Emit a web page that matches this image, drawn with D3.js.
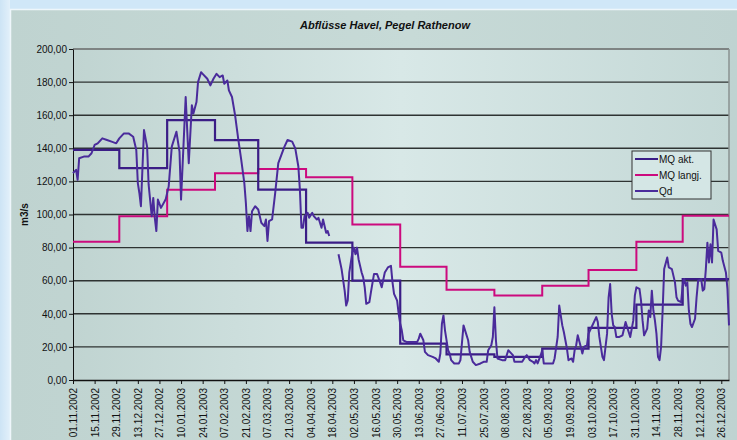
<!DOCTYPE html>
<html>
<head>
<meta charset="utf-8">
<script src="https://cdnjs.cloudflare.com/ajax/libs/d3/7.8.5/d3.min.js"></script>
<style>
  body { margin: 0; background: #d0e7f8; }
  svg { display: block; font-family: "Liberation Sans", Arial, sans-serif; }
</style>
</head>
<body>
<div id="zone_graphique"></div>
<script>
var largeur = 737;
var hauteur = 440;

// Daten
var titel = "Abflüsse Havel, Pegel Rathenow";
var yTicks = [0, 20, 40, 60, 80, 100, 120, 140, 160, 180, 200];
var xTicks = ["01.11.2002", "15.11.2002", "29.11.2002", "13.12.2002", "27.12.2002", "10.01.2003",
  "24.01.2003", "07.02.2003", "21.02.2003", "07.03.2003", "21.03.2003", "04.04.2003", "18.04.2003",
  "02.05.2003", "16.05.2003", "30.05.2003", "13.06.2003", "27.06.2003", "11.07.2003", "25.07.2003",
  "08.08.2003", "22.08.2003", "05.09.2003", "19.09.2003", "03.10.2003", "17.10.2003", "31.10.2003",
  "14.11.2003", "28.11.2003", "12.12.2003", "26.12.2003"];

// Monatsmittel (Monatsanfang)
var monate = ["01.11.2002", "01.12.2002", "01.01.2003", "01.02.2003", "01.03.2003", "01.04.2003",
  "01.05.2003", "01.06.2003", "01.07.2003", "01.08.2003", "01.09.2003", "01.10.2003",
  "01.11.2003", "01.12.2003", "31.12.2003"];
var mqAkt =   [139, 128, 157, 145, 115, 83, 60, 22, 15.5, 14, 19, 31.5, 45.5, 61, 61];
var mqLangj = [83.5, 99, 115, 125, 127.5, 122.5, 94, 68.5, 54.5, 51, 57, 66.5, 83.5, 99.3, 99.3];

// Tageswerte Qd (Tag ab 01.11.2002)
var qdTage = [0, 2, 3, 4, 7, 10, 12, 14, 16, 19, 22, 25, 28, 30, 33, 36, 39, 41, 42, 43, 44, 46, 48, 49,
  51, 52, 53, 54, 55, 57, 60, 62, 64, 67, 69, 70, 73, 75, 77, 78, 80, 81, 83, 84, 87, 89, 91, 93, 95, 97,
  98, 100, 101, 103, 105, 107, 109, 111, 112, 113, 114, 115, 116, 118, 120, 122, 124, 125, 126, 127, 129,
  131, 133, 135, 137, 139, 142, 144, 146, 147, 148, 149, 150, 152, 153, 155, 156, 158, 159, 161, 162, 164,
  165, 166, 169, 172, 174, 176, 177, 178, 179, 181, 182, 183, 184, 185, 187, 188, 189, 190, 192, 193, 195,
  197, 199, 200, 202, 204, 206, 207, 208, 210, 211, 212, 213, 214, 216, 218, 220, 223, 224, 225, 227, 228,
  230, 233, 235, 237, 238, 239, 240, 241, 243, 244, 245, 247, 250, 251, 253, 254, 256, 257, 259, 261, 264,
  266, 268, 269, 271, 272, 273, 274, 275, 278, 280, 282, 283, 285, 286, 288, 291, 293, 294, 296, 298, 299,
  300, 301, 303, 304, 305, 308, 311, 312, 314, 315, 317, 318, 319, 320, 321, 323, 324, 325, 326, 327, 329,
  330, 331, 333, 334, 336, 337, 339, 340, 341, 343, 344, 346, 347, 348, 349, 350, 351, 352, 354, 356, 357,
  358, 359, 360, 361, 363, 364, 365, 367, 368, 369, 370, 372, 373, 374, 375, 376, 377, 378, 379, 380, 381,
  382, 383, 385, 386, 388, 390, 391, 392, 394, 395, 396, 397, 398, 399, 400, 401, 403, 404, 405, 407, 408,
  409, 410, 411, 412, 413, 414, 415, 416, 417, 418, 420, 421, 423, 424, 425];
var qdWerte = [125, 127, 121, 134, 135, 135, 137, 142, 143, 146, 145, 144, 143, 146, 149, 149, 147, 139, 119, 113, 105, 151, 141, 118,
  99, 110, 98, 90, 109, 104, 109, 117, 141, 150, 138, 109, 171, 131, 166, 161, 168, 180, 186, 185, 182, 178, 182, 185, 183, 184,
  179, 181, 175, 171, 160, 146, 133, 119, 107, 90, 99, 90, 102, 105, 103, 95, 93, 97, 84, 96, 97,
  113, 131, 136, 141, 145, 144, 140, 129, 115, 92, 92, 99, 101, 98, 101, 99, 97, 98, 92, 97, 89,
  90, 87, null, 76, 67, 54, 45, 48, 65, 77, 80, 76, 80, 73, 65, 62, 56, 46, 47, 53, 64,
  64, 59, 56, 65, 68, 69, 59, 52, 48, 40, 34, 30, 24, 23, 23, 23, 23, 25, 28, 24, 17,
  15, 14, 13, 11, 16, 34, 39, 30, 18, 16, 12, 10, 10, 12, 33, 30, 24, 17, 11, 9, 10,
  11, 11, 18, 21, 26, 44, 24, 13, 12, 12, 18, 17, 15, 11, 11, 11, 14, 15, 12, 11, 10,
  12, 10, 15, 18, 10, 10, 10, 13, 26, 45, 33, 29, 24, 19, 12, 13, 11, 18, 21, 27, 20,
  16, 20, 21, 28, 32, 34, 38, 35, 26, 14, 12, 28, 50, 58, 40, 33, 32, 26, 26, 27, 31,
  35, 32, 29, 26, 36, 51, 56, 55, 48, 36, 27, 31, 42, 38, 54, 42, 36, 28, 14, 12, 20,
  42, 67, 74, 68, 67, 59, 50, 48, 47, 57, 61, 57, 59, 42, 34, 32, 37, 50, 60, 61, 54,
  55, 67, 83, 71, 82, 71, 97, 94, 91, 78, 77, 72, 65, 55, 33];

var legende = ["MQ akt.", "MQ langj.", "Qd"];
var farben = ["#3b1d86", "#cc0a7e", "#4a2b9b"];

// Rand des Diagramms
var marge = {haut: 49, droite: 8, bas: 60, gauche: 73},
    width = largeur - marge.gauche - marge.droite,
    height = hauteur - marge.haut - marge.bas;

var parseDate = d3.timeParse("%d.%m.%Y");
var start = parseDate("01.11.2002");

var svg = d3.select("#zone_graphique")
  .append("svg")
    .attr("width", largeur)
    .attr("height", hauteur);

var defs = svg.append("defs");
var gradAussen = defs.append("linearGradient").attr("id", "gradAussen");
gradAussen.append("stop").attr("offset", "0%").attr("stop-color", "#bfd3d0");
gradAussen.append("stop").attr("offset", "55%").attr("stop-color", "#c7dad7");
gradAussen.append("stop").attr("offset", "100%").attr("stop-color", "#bfd3d1");

var gradPlot = defs.append("linearGradient").attr("id", "gradPlot");
gradPlot.append("stop").attr("offset", "0%").attr("stop-color", "#c0d4d1");
gradPlot.append("stop").attr("offset", "50%").attr("stop-color", "#d8e8e7");
gradPlot.append("stop").attr("offset", "100%").attr("stop-color", "#c4d8d6");

var gradLinks = defs.append("linearGradient").attr("id", "gradLinks");
gradLinks.append("stop").attr("offset", "0%").attr("stop-color", "#cde4f5");
gradLinks.append("stop").attr("offset", "100%").attr("stop-color", "#e2f0fa");

// Hintergrund
svg.append("rect")
  .attr("x", 0).attr("y", 0)
  .attr("width", 10).attr("height", hauteur)
  .style("fill", "url(#gradLinks)");

svg.append("rect")
  .attr("x", 10).attr("y", 9)
  .attr("width", largeur - 10).attr("height", hauteur - 9)
  .style("fill", "url(#gradAussen)");

svg.append("path")
  .attr("d", "M10.5," + hauteur + "V9.5H" + largeur)
  .style("fill", "none")
  .style("stroke", "#eef6fb")
  .style("stroke-width", 1.5);

var g = svg.append("g")
  .attr("transform", "translate(" + marge.gauche + "," + marge.haut + ")");

g.append("rect")
  .attr("width", width)
  .attr("height", height)
  .style("fill", "url(#gradPlot)");

// Achsen
var x = d3.scaleTime()
  .domain([start, parseDate("31.12.2003")])
  .range([0, width]);

var y = d3.scaleLinear()
  .domain([0, 200])
  .range([height, 0]);

// Gitternetz
g.append("g")
  .selectAll("line")
  .data(yTicks.filter(function (d) { return d > 0; }))
  .enter()
  .append("line")
    .attr("x1", 0)
    .attr("x2", width)
    .attr("y1", function (d) { return y(d); })
    .attr("y2", function (d) { return y(d); })
    .style("stroke", function (d) { return d == 200 ? "#7e8483" : "#2e3332"; })
    .style("stroke-width", function (d) { return d == 200 ? 2 : 1.4; });

g.append("line")
  .attr("x1", width).attr("x2", width)
  .attr("y1", 0).attr("y2", height)
  .style("stroke", "#8a9291")
  .style("stroke-width", 1.5);

var yAxis = g.append("g")
  .call(d3.axisLeft(y)
    .tickValues(yTicks)
    .tickSize(4)
    .tickSizeOuter(0)
    .tickFormat(function (d) { return d.toFixed(2).replace(".", ","); }));
yAxis.selectAll("text")
  .attr("font-size", "10px")
  .attr("font-family", "Liberation Sans, Arial, sans-serif")
  .attr("fill", "#111")
  .attr("x", -6);
yAxis.selectAll("line, path").style("stroke", "#111");

var xAxis = g.append("g")
  .attr("transform", "translate(0," + height + ")")
  .call(d3.axisBottom(x)
    .tickValues(xTicks.map(parseDate))
    .tickSize(4)
    .tickSizeOuter(0)
    .tickFormat(d3.timeFormat("%d.%m.%Y")));
xAxis.selectAll("text")
  .attr("font-size", "10px")
  .attr("font-family", "Liberation Sans, Arial, sans-serif")
  .attr("fill", "#111")
  .attr("transform", "rotate(-90)")
  .attr("text-anchor", "end")
  .attr("x", -8)
  .attr("y", 0)
  .attr("dy", "0.35em");
xAxis.selectAll("line, path").style("stroke", "#111");
xAxis.select("path").style("stroke-width", 1.5);

// Linien
var stufen = d3.line()
  .curve(d3.curveStepAfter)
  .x(function (d) { return x(d[0]); })
  .y(function (d) { return y(d[1]); });

var monatDaten = function (werte) {
  return monate.map(function (m, i) { return [parseDate(m), werte[i]]; });
};

g.append("path")
  .datum(monatDaten(mqLangj))
  .attr("d", stufen)
  .style("fill", "none")
  .style("stroke", farben[1])
  .style("stroke-width", 2);

g.append("path")
  .datum(monatDaten(mqAkt))
  .attr("d", stufen)
  .style("fill", "none")
  .style("stroke", farben[0])
  .style("stroke-width", 2.2);

var qdLinie = d3.line()
  .defined(function (d) { return d[1] != null; })
  .x(function (d) { return x(d3.timeDay.offset(start, d[0])); })
  .y(function (d) { return y(d[1]); });

g.append("path")
  .datum(qdTage.map(function (t, i) { return [t, qdWerte[i]]; }))
  .attr("d", qdLinie)
  .style("fill", "none")
  .style("stroke", farben[2])
  .style("stroke-width", 2)
  .style("stroke-linejoin", "round");

// Titel
svg.append("text")
  .attr("x", 385)
  .attr("y", 29)
  .attr("text-anchor", "middle")
  .attr("font-size", "11px")
  .attr("font-weight", "bold")
  .attr("font-style", "italic")
  .attr("fill", "#111")
  .text(titel);

svg.append("text")
  .attr("transform", "translate(28," + (marge.haut + height / 2) + ") rotate(-90)")
  .attr("text-anchor", "middle")
  .attr("font-size", "10px")
  .attr("font-weight", "bold")
  .attr("fill", "#111")
  .text("m3/s");

// Legende
var leg = svg.append("g")
  .attr("transform", "translate(632,151)");
leg.append("rect")
  .attr("width", 79)
  .attr("height", 48)
  .style("fill", "#d4e6e5")
  .style("stroke", "#333")
  .style("stroke-width", 1);

var eintrag = leg.selectAll(".eintrag")
  .data(legende)
  .enter()
  .append("g")
    .attr("transform", function (d, i) { return "translate(0," + (8 + i * 16) + ")"; });
eintrag.append("line")
  .attr("x1", 3).attr("x2", 26)
  .attr("y1", 0).attr("y2", 0)
  .style("stroke", function (d, i) { return farben[i]; })
  .style("stroke-width", 2);
eintrag.append("text")
  .attr("x", 27)
  .attr("y", 0)
  .attr("dy", "0.35em")
  .attr("font-size", "10px")
  .attr("fill", "#111")
  .text(function (d) { return d; });
</script>
</body>
</html>
